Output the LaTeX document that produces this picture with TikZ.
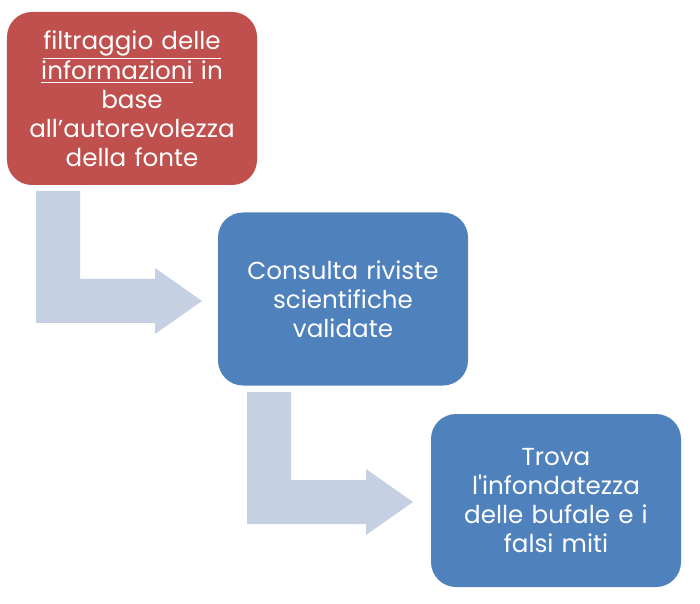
\documentclass[tikz,border=0pt]{standalone}
\usepackage{fontspec}
\newfontfamily\boxfont{Poppins}
\usepackage{tikz}
\usetikzlibrary{positioning}

\definecolor{boxred}{RGB}{192,80,77}
\definecolor{boxblue}{RGB}{79,129,189}
\definecolor{arrowgrey}{RGB}{197,208,227}

\begin{document}
\begin{tikzpicture}[
  stepbox/.style={draw=none, rounded corners=0.5cm, minimum width=5cm,
    minimum height=3.46cm, text width=4.7cm, align=center, text=white,
    font=\boxfont\fontsize{14}{16.4}\selectfont},
  bentarrow/.style={fill=arrowgrey, draw=none}
]
\useasboundingbox (0,0) rectangle (14,12.06);

% bent arrows between the steps
\foreach \dx/\dy in {0/0, 4.22/-4.02}
  \fill[bentarrow, shift={(\dx,\dy)}] (0.72,8.24) -- (1.6,8.24) -- (1.6,6.48)
    -- (3.1,6.48) -- (3.1,6.70) -- (4.04,6.04) -- (3.1,5.38) -- (3.1,5.6)
    -- (0.72,5.6) -- cycle;

% steps
\node[stepbox, fill=boxred] (filtro) at (2.64,10.09)
  {\underline{filtraggio delle}\\ \underline{informazioni} in\\ base\\ all’autorevolezza\\ della fonte};

\node[stepbox, fill=boxblue] (riviste) at (6.86,6.08)
  {Consulta riviste\\ scientifiche\\ validate};

\node[stepbox, fill=boxblue] (bufale) at (11.12,2.05)
  {Trova\\ l'infondatezza\\ delle bufale e i\\ falsi miti};

\end{tikzpicture}
\end{document}
